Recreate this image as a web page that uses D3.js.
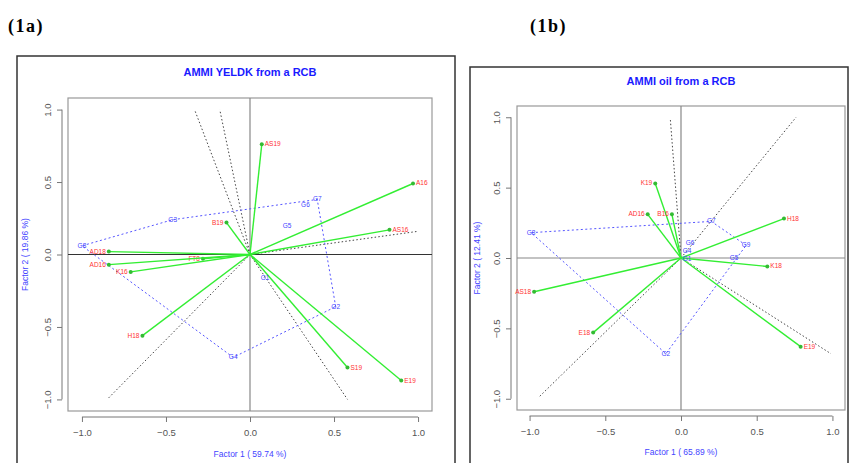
<!DOCTYPE html>
<html>
<head>
<meta charset="utf-8">
<script src="https://cdn.jsdelivr.net/npm/d3@7"></script>
<style>
  body { margin: 0; background: #fff; }
  svg text { font-family: "Liberation Sans", Arial, sans-serif; }
</style>
</head>
<body>
<svg id="chart" width="851" height="463"></svg>
<script>
// ---- panel 1a : AMMI YELDK ----
var envLabelsA = ["AS19", "B19", "A16", "AS16", "AD18", "FT8", "AD16", "K16", "H18", "S19", "E19"];
var envXA = [0.07, -0.14, 0.97, 0.83, -0.84, -0.28, -0.84, -0.71, -0.64, 0.58, 0.90];
var envYA = [0.76, 0.22, 0.49, 0.17, 0.02, -0.03, -0.07, -0.12, -0.56, -0.78, -0.87];
var genLabelsA = ["G8", "G3", "G7", "G6", "G5", "G1", "G2", "G4"];
var genXA = [-1.0, -0.46, 0.40, 0.33, 0.22, 0.09, 0.51, -0.10];
var genYA = [0.06, 0.24, 0.38, 0.34, 0.20, -0.16, -0.36, -0.71];
var secXA = [-0.33, -0.18, 1.0, 0.58, -0.85];
var secYA = [1.0, 1.0, 0.16, -1.0, -1.0];

// ---- panel 1b : AMMI oil ----
var envLabelsB = ["K19", "AD16", "B16", "H18", "K18", "E19", "AS18", "E18"];
var envXB = [-0.17, -0.22, -0.06, 0.68, 0.57, 0.79, -0.97, -0.58];
var envYB = [0.53, 0.31, 0.31, 0.28, -0.06, -0.63, -0.24, -0.53];
var genLabelsB = ["G8", "G7", "G9", "G5", "G6", "G4", "G1", "G2"];
var genXB = [-0.99, 0.20, 0.43, 0.35, 0.06, 0.04, 0.04, -0.10];
var genYB = [0.18, 0.26, 0.09, 0.0, 0.11, 0.05, -0.01, -0.68];
var secXB = [-0.07, 0.76, 0.99, -0.94];
var secYB = [0.98, 1.0, -0.68, -0.99];

var ticks = [-1.0, -0.5, 0.0, 0.5, 1.0];

var svg = d3.select("#chart");

// outer frames and panel tags
svg.append("rect").attr("x", 17).attr("y", 56).attr("width", 438).attr("height", 420)
  .attr("fill", "none").attr("stroke", "#333").attr("stroke-width", 1.5);
svg.append("rect").attr("x", 470).attr("y", 67).attr("width", 378).attr("height", 410)
  .attr("fill", "none").attr("stroke", "#333").attr("stroke-width", 1.5);
svg.append("text").attr("x", 8).attr("y", 32).text("(1a)")
  .style("font-family", "Liberation Serif").style("font-weight", "bold")
  .style("font-size", "18px").style("letter-spacing", "1.5px");
svg.append("text").attr("x", 530).attr("y", 32).text("(1b)")
  .style("font-family", "Liberation Serif").style("font-weight", "bold")
  .style("font-size", "18px").style("letter-spacing", "1.5px");

function drawPanel(p) {
  var x = d3.scaleLinear().domain([-1.083, 1.083]).range([p.left, p.right]);
  var y = d3.scaleLinear().domain([-1.08, 1.08]).range([p.bottom, p.top]);
  var g = svg.append("g");

  // title
  g.append("text").attr("x", x(0)).attr("y", p.titleY).attr("text-anchor", "middle")
    .attr("fill", "#1a1aff").style("font-weight", "bold").style("font-size", "11px").text(p.title);

  // plot box
  g.append("rect").attr("x", p.left).attr("y", p.top)
    .attr("width", p.right - p.left).attr("height", p.bottom - p.top)
    .attr("fill", "none").attr("stroke", "#999").attr("stroke-width", 1.2);

  // zero lines
  g.append("line").attr("x1", p.left).attr("x2", p.right).attr("y1", y(0)).attr("y2", y(0))
    .attr("stroke", p.hColor).attr("stroke-width", 1.2);
  g.append("line").attr("x1", x(0)).attr("x2", x(0)).attr("y1", p.top).attr("y2", p.bottom)
    .attr("stroke", "#888").attr("stroke-width", 1.2);

  // axes
  var xa = g.append("g").attr("transform", "translate(0," + (p.bottom + 6) + ")")
    .call(d3.axisBottom(x).tickValues(ticks).tickSize(5).tickSizeOuter(0).tickFormat(d3.format(".1f")));
  var ya = g.append("g").attr("transform", "translate(" + (p.left - 6) + ",0)")
    .call(d3.axisLeft(y).tickValues(ticks).tickSize(5).tickSizeOuter(0).tickFormat(d3.format(".1f")));
  [xa, ya].forEach(function (a) {
    a.select(".domain").attr("stroke", "#777")
      .attr("d", a === xa ? "M" + x(-1) + ",0H" + x(1) : "M0," + y(-1) + "V" + y(1));
    a.selectAll(".tick line").attr("stroke", "#777");
    a.selectAll(".tick text").attr("fill", "#555").style("font-size", "9.5px")
      .style("font-family", "Liberation Sans");
  });
  xa.selectAll(".tick text").attr("y", 12);
  ya.selectAll(".tick text").attr("x", 0).attr("y", 0)
    .attr("transform", "translate(-11,0) rotate(-90)").attr("text-anchor", "middle")
    .attr("dy", "0");

  g.append("text").attr("x", x(0)).attr("y", p.xLabY).attr("text-anchor", "middle")
    .attr("fill", "#4444ff").style("font-size", "8.5px").text(p.xLab);
  g.append("text").attr("transform", "translate(" + p.yLabX + "," + y(0) + ") rotate(-90)")
    .attr("text-anchor", "middle").attr("fill", "#4444ff").style("font-size", "8.5px").text(p.yLab);

  // sector lines
  p.secX.forEach(function (sx, i) {
    g.append("line").attr("x1", x(0)).attr("y1", y(0)).attr("x2", x(sx)).attr("y2", y(p.secY[i]))
      .attr("stroke", "#444").attr("stroke-width", 1).attr("stroke-dasharray", "1.5,2.2");
  });

  // genotype hull
  var pts = p.genX.map(function (gx, i) { return [x(gx), y(p.genY[i])]; });
  var hull = d3.polygonHull(pts);
  g.append("path").attr("d", "M" + hull.join("L") + "Z").attr("fill", "none")
    .attr("stroke", "#5555ff").attr("stroke-width", 1).attr("stroke-dasharray", "2,2.5");

  // environment vectors
  p.envX.forEach(function (ex, i) {
    var ex2 = x(ex), ey2 = y(p.envY[i]);
    g.append("line").attr("x1", x(0)).attr("y1", y(0)).attr("x2", ex2).attr("y2", ey2)
      .attr("stroke", "#33ee33").attr("stroke-width", 1.4);
    g.append("circle").attr("cx", ex2).attr("cy", ey2).attr("r", 2).attr("fill", "#33bb33");
    g.append("text").attr("x", ex >= 0 ? ex2 + 3 : ex2 - 3).attr("y", ey2 + 2)
      .attr("text-anchor", ex >= 0 ? "start" : "end")
      .attr("fill", "#ff3333").style("font-size", "6.5px").text(p.envLabels[i]);
  });

  // genotype labels
  p.genX.forEach(function (gx, i) {
    g.append("text").attr("x", x(gx)).attr("y", y(p.genY[i]) + 2).attr("text-anchor", "middle")
      .attr("fill", "#4444ff").style("font-size", "6.5px").text(p.genLabels[i]);
  });
}

drawPanel({
  left: 68, right: 432, top: 98, bottom: 411,
  title: "AMMI YELDK from a RCB", titleY: 76,
  xLab: "Factor 1 ( 59.74 %)", xLabY: 457, yLab: "Factor 2 ( 19.86 %)", yLabX: 28,
  hColor: "#333",
  envLabels: envLabelsA, envX: envXA, envY: envYA,
  genLabels: genLabelsA, genX: genXA, genY: genYA,
  secX: secXA, secY: secYA
});

drawPanel({
  left: 517, right: 845, top: 106, bottom: 410,
  title: "AMMI oil from a RCB", titleY: 85,
  xLab: "Factor 1 ( 65.89 %)", xLabY: 455, yLab: "Factor 2 ( 12.41 %)", yLabX: 480,
  hColor: "#888",
  envLabels: envLabelsB, envX: envXB, envY: envYB,
  genLabels: genLabelsB, genX: genXB, genY: genYB,
  secX: secXB, secY: secYB
});
</script>
</body>
</html>
